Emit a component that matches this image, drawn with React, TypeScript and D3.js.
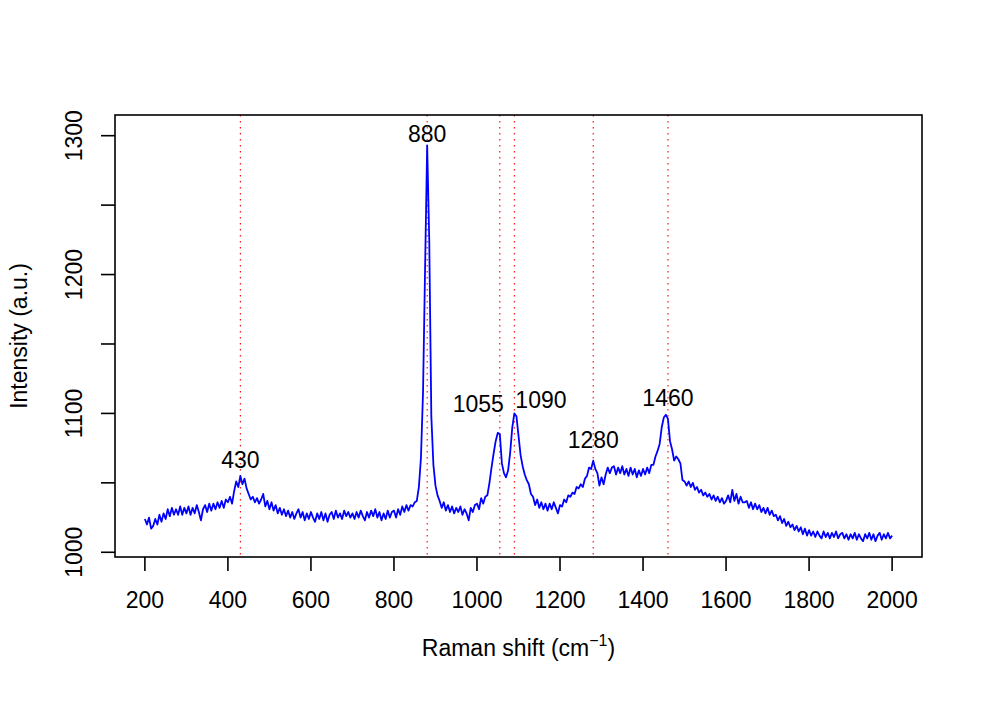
import React from "react";
import * as d3 from "d3";

// Raman shift sampling (cm^-1): 200..2000 step 5
const shiftStart = 200;
const shiftEnd = 2000;
const shiftStep = 5;

// Intensity values (a.u.), one per sample, rows of 20 (100 cm^-1 per row)
const intensity: number[] = [
  // 200-295
  1024, 1020, 1025, 1017, 1019, 1024, 1020, 1027, 1022, 1028, 1024, 1031, 1026, 1032, 1027, 1031, 1027, 1033, 1027, 1032,
  // 300-395
  1028, 1033, 1027, 1032, 1028, 1034, 1029, 1023, 1031, 1034, 1029, 1035, 1030, 1035, 1031, 1036, 1032, 1037, 1032, 1038,
  // 400-495
  1036, 1040, 1035, 1044, 1051, 1047, 1055, 1049, 1053, 1046, 1042, 1038, 1040, 1036, 1039, 1035, 1038, 1042, 1033, 1037,
  // 500-595
  1031, 1036, 1030, 1034, 1028, 1032, 1027, 1031, 1026, 1030, 1025, 1029, 1024, 1028, 1031, 1025, 1029, 1023, 1028, 1024,
  // 600-695
  1029, 1025, 1022, 1028, 1024, 1029, 1023, 1028, 1022, 1027, 1029, 1024, 1030, 1025, 1028, 1024, 1030, 1026, 1029, 1025,
  // 700-795
  1028, 1024, 1029, 1025, 1030, 1026, 1023, 1029, 1025, 1030, 1026, 1031, 1025, 1029, 1023, 1028, 1024, 1030, 1025, 1029,
  // 800-895
  1030, 1025, 1031, 1027, 1033, 1029, 1034, 1030, 1034, 1033, 1036, 1037, 1047, 1068, 1115, 1205, 1293, 1225, 1098, 1063,
  // 900-995
  1048, 1041, 1037, 1032, 1036, 1030, 1034, 1029, 1033, 1028, 1032, 1029, 1033, 1027, 1031, 1028, 1023, 1032, 1029, 1034,
  // 1000-1095
  1035, 1031, 1039, 1035, 1040, 1041, 1050, 1061, 1071, 1080, 1086, 1085, 1064, 1057, 1054, 1059, 1072, 1090, 1100, 1098,
  // 1100-1195
  1084, 1070, 1062, 1056, 1052, 1049, 1042, 1040, 1034, 1038, 1032, 1036, 1031, 1035, 1030, 1035, 1031, 1036, 1032, 1028,
  // 1200-1295
  1034, 1033, 1038, 1036, 1041, 1040, 1043, 1042, 1047, 1046, 1049, 1047, 1053, 1055, 1061, 1060, 1066, 1060, 1057, 1048,
  // 1300-1395
  1054, 1049, 1056, 1061, 1057, 1061, 1062, 1056, 1061, 1057, 1062, 1056, 1060, 1055, 1061, 1056, 1060, 1054, 1059, 1055,
  // 1400-1495
  1060, 1056, 1061, 1057, 1063, 1063, 1069, 1073, 1078, 1090, 1097, 1099, 1096, 1080, 1074, 1066, 1069, 1067, 1064, 1052,
  // 1500-1595
  1051, 1048, 1051, 1047, 1050, 1045, 1047, 1043, 1045, 1041, 1043, 1040, 1042, 1038, 1041, 1037, 1040, 1036, 1039, 1035,
  // 1600-1695
  1037, 1041, 1036, 1045, 1037, 1042, 1035, 1040, 1036, 1036, 1037, 1032, 1036, 1031, 1035, 1031, 1034, 1029, 1032, 1028,
  // 1700-1795
  1032, 1027, 1030, 1026, 1027, 1023, 1026, 1021, 1024, 1019, 1022, 1018, 1020, 1016, 1019, 1015, 1018, 1013, 1017, 1012,
  // 1800-1895
  1016, 1012, 1015, 1011, 1015, 1012, 1010, 1015, 1011, 1014, 1010, 1014, 1011, 1015, 1010, 1013, 1014, 1010, 1013, 1009,
  // 1900-2000
  1013, 1010, 1014, 1009, 1013, 1010, 1008, 1013, 1010, 1014, 1009, 1013, 1008, 1012, 1014, 1009, 1013, 1010, 1014, 1010,
  1012,
];

const xTicks = [200, 400, 600, 800, 1000, 1200, 1400, 1600, 1800, 2000];
const xTickLabels = ["200", "400", "600", "800", "1000", "1200", "1400", "1600", "1800", "2000"];
const yTicks = [1000, 1050, 1100, 1150, 1200, 1250, 1300];
const yTickLabels = ["1000", "", "1100", "", "1200", "", "1300"];

const peakShifts = [430, 880, 1055, 1090, 1280, 1460];
const peakLabels = ["430", "880", "1055", "1090", "1280", "1460"];
const peakLabelLevels = [1060.5, 1295.7, 1101.2, 1103.7, 1074.9, 1105.3];
const peakLabelSides = ["center", "center", "left", "right", "center", "center"];

const W = 981;
const H = 701;
const FONT = "'Liberation Sans', Arial, Helvetica, sans-serif";

export default function App() {
  const left = 115, right = 922, top = 115, bottom = 557;
  const x = d3.scaleLinear().domain([128, 2072]).range([left, right]);
  const y = d3.scaleLinear().domain([996.6, 1314.9]).range([bottom, top]);

  const shifts = d3.range(shiftStart, shiftEnd + 1, shiftStep);
  const pts: [number, number][] = shifts.map((s, i) => [s, intensity[i]]);
  const line = d3
    .line<[number, number]>()
    .x((d) => x(d[0]))
    .y((d) => y(d[1]));

  const fs = 23;

  return (
    <svg
      width={W}
      height={H}
      viewBox={`0 0 ${W} ${H}`}
      style={{ position: "absolute", left: 0, top: 0, background: "#fff" }}
      fontFamily={FONT}
    >
      <rect x={0} y={0} width={W} height={H} fill="#fff" />
      {/* peak reference lines */}
      {peakShifts.map((p, i) => (
        <line
          key={"pl" + i}
          x1={x(p)}
          x2={x(p)}
          y1={top}
          y2={bottom}
          stroke="#ff0000"
          strokeWidth={1.1}
          strokeDasharray="1.5 4.5"
        />
      ))}
      {/* spectrum */}
      <path d={line(pts) || ""} fill="none" stroke="#0000ff" strokeWidth={1.8} strokeLinejoin="round" />
      {/* peak labels */}
      {peakShifts.map((p, i) => {
        const side = peakLabelSides[i];
        const anchor = side === "left" ? "end" : side === "right" ? "start" : "middle";
        const dx = side === "left" ? 4 : side === "right" ? 1 : 0;
        return (
          <text
            key={"lb" + i}
            x={x(p) + dx}
            y={y(peakLabelLevels[i])}
            textAnchor={anchor}
            fontSize={fs}
            fill="#000"
          >
            {peakLabels[i]}
          </text>
        );
      })}
      {/* box */}
      <rect x={left} y={top} width={right - left} height={bottom - top} fill="none" stroke="#000" strokeWidth={1.6} />
      {/* x axis */}
      {xTicks.map((t, i) => (
        <g key={"xt" + i}>
          <line x1={x(t)} x2={x(t)} y1={bottom} y2={bottom + 14} stroke="#000" strokeWidth={1.6} />
          <text x={x(t)} y={608} textAnchor="middle" fontSize={fs} fill="#000">
            {xTickLabels[i]}
          </text>
        </g>
      ))}
      {/* y axis */}
      {yTicks.map((t, i) => (
        <g key={"yt" + i}>
          <line x1={left - 14} x2={left} y1={y(t)} y2={y(t)} stroke="#000" strokeWidth={1.6} />
          {yTickLabels[i] && (
            <text
              transform={`translate(82,${y(t)}) rotate(-90)`}
              textAnchor="middle"
              fontSize={fs}
              fill="#000"
            >
              {yTickLabels[i]}
            </text>
          )}
        </g>
      ))}
      {/* axis titles */}
      <text x={(left + right) / 2} y={656} textAnchor="middle" fontSize={fs} fill="#000">
        <tspan>Raman shift (cm</tspan>
        <tspan dy={-10} fontSize={16}>
          −1
        </tspan>
        <tspan dy={10}>)</tspan>
      </text>
      <text
        transform={`translate(27,${(top + bottom) / 2}) rotate(-90)`}
        textAnchor="middle"
        fontSize={fs}
        fill="#000"
      >
        Intensity (a.u.)
      </text>
    </svg>
  );
}
